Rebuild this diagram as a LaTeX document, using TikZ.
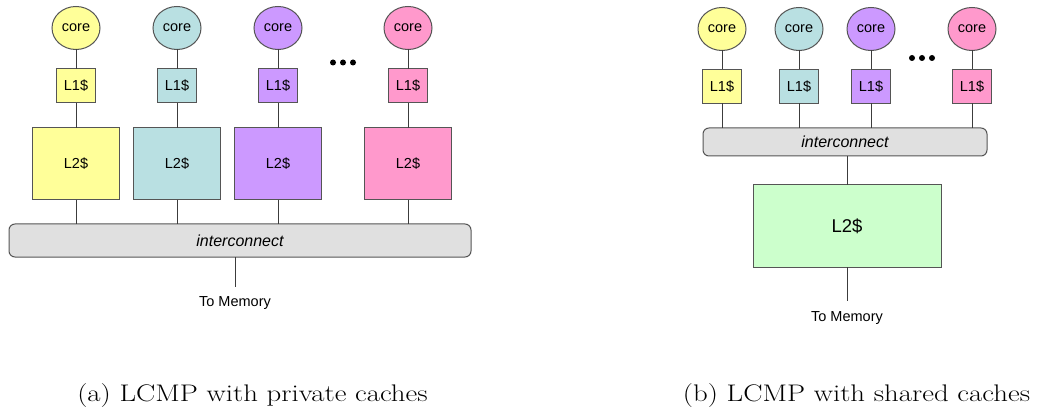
\documentclass[tikz,border=0pt]{standalone}
\usepackage{fontspec}
\usetikzlibrary{shapes.geometric}
\newfontfamily\arial{Liberation Sans}
\definecolor{cyel}{RGB}{255,255,153}
\definecolor{ccya}{RGB}{185,224,226}
\definecolor{cpur}{RGB}{204,153,255}
\definecolor{cpnk}{RGB}{255,153,204}
\definecolor{cgrn}{RGB}{204,255,204}
\definecolor{cgry}{RGB}{224,224,224}
\definecolor{cedge}{RGB}{85,85,85}
\definecolor{cline}{RGB}{60,60,60}
\begin{document}
\begin{tikzpicture}[x=1pt,y=-1pt,
  every node/.style={inner sep=0pt,outer sep=0pt},
  corenode/.style={ellipse,draw=cedge,line width=1pt,minimum width=48pt,minimum height=43pt,font=\arial\fontsize{14.5}{16}\selectfont},
  lonebox/.style={rectangle,draw=cedge,line width=1pt,minimum width=39pt,minimum height=34pt,font=\arial\fontsize{14.5}{16}\selectfont},
  ltwobox/.style={rectangle,draw=cedge,line width=1pt,minimum width=87pt,minimum height=72pt,font=\arial\fontsize{14.5}{16}\selectfont},
  bigltwo/.style={rectangle,draw=cedge,line width=1pt,minimum width=188pt,minimum height=82pt,font=\arial\fontsize{18.5}{20}\selectfont},
  icbox/.style={rectangle,rounded corners=6pt,draw=cedge,line width=1pt,fill=cgry,font=\arial\itshape\fontsize{16}{18}\selectfont},
  memtext/.style={font=\arial\fontsize{14.5}{16}\selectfont},
  captext/.style={anchor=base,transform shape,xscale=1.2,font=\fontsize{24}{28}\selectfont},
  wire/.style={draw=cline,line width=1pt},
  dotmark/.style={fill=black}
]
\useasboundingbox (0,0) rectangle (1037,409);
% ---------- (a) private caches ----------
\foreach \i/\x/\c in {1/76/cyel,2/177/ccya,3/278/cpur,4/408/cpnk}{
  \node[corenode,fill=\c] (ca\i) at (\x,28) {core};
  \node[lonebox,fill=\c] (la\i) at (\x,86) {L1\$};
  \node[ltwobox,fill=\c] (ma\i) at (\x,164) {L2\$};
}
\node[icbox,minimum width=462pt,minimum height=33pt] (ica) at (240,240.5) {interconnect};
\foreach \i in {1,2,3,4}{
  \draw[wire] (ca\i) -- (la\i);
  \draw[wire] (la\i) -- (ma\i);
  \draw[wire] (ma\i.south) -- (ma\i.south |- ica.north);
}
\coordinate (memendA) at (235,287);
\draw[wire] (memendA |- ica.south) -- (memendA);
\node[memtext] (memA) at (235,303) {To Memory};
\foreach \x in {333,343,353}{\fill[dotmark] (\x,62.5) circle (3pt);}
\node[captext] (capA) at (252.5,401) {(a) LCMP with private caches};
% ---------- (b) shared caches ----------
\foreach \i/\x/\c in {1/722/cyel,2/799/ccya,3/871/cpur,4/972/cpnk}{
  \node[corenode,fill=\c] (cb\i) at (\x,29) {core};
  \node[lonebox,fill=\c] (lb\i) at (\x,86.5) {L1\$};
}
\node[icbox,minimum width=284pt,minimum height=28pt] (icb) at (845,142) {interconnect};
\foreach \i in {1,2,3,4}{
  \draw[wire] (cb\i) -- (lb\i);
  \draw[wire] (lb\i.south) -- (lb\i.south |- icb.north);
}
\node[bigltwo,fill=cgrn] (mb) at (847,226) {L2\$};
\draw[wire] (mb.north |- icb.south) -- (mb.north);
\coordinate (memendB) at (847,301);
\draw[wire] (mb.south) -- (memendB);
\node[memtext] (memB) at (847,318) {To Memory};
\foreach \x in {912,922,932}{\fill[dotmark] (\x,58) circle (3pt);}
\node[captext] (capB) at (856.5,401) {(b) LCMP with shared caches};
\end{tikzpicture}
\end{document}
